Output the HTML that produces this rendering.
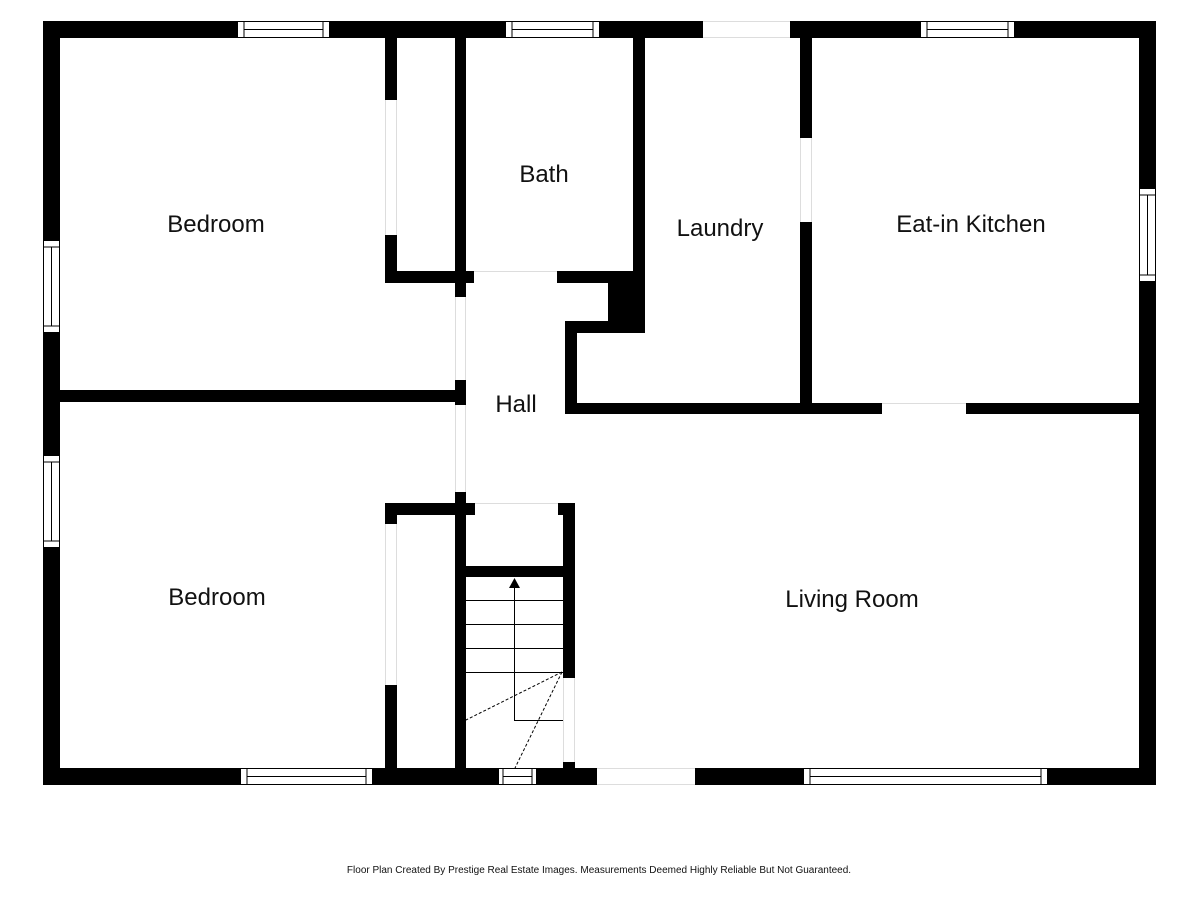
<!DOCTYPE html>
<html><head><meta charset="utf-8"><style>
html,body{margin:0;padding:0;background:#fff;width:1200px;height:900px;overflow:hidden}
svg{display:block}
text{font-family:"Liberation Sans",sans-serif;fill:#111}
</style></head><body>
<svg width="1200" height="900" viewBox="0 0 1200 900" xmlns="http://www.w3.org/2000/svg">
<g fill="#000">
<rect x="43" y="21" width="1113" height="17"/>
<rect x="43" y="768" width="1113" height="17"/>
<rect x="43" y="21" width="17" height="764"/>
<rect x="1139" y="21" width="17" height="764"/>
<rect x="385" y="38" width="12" height="62"/>
<rect x="385" y="235" width="12" height="48"/>
<rect x="385" y="271" width="89" height="12"/>
<rect x="455" y="38" width="11" height="259"/>
<rect x="455" y="380" width="11" height="25"/>
<rect x="60" y="390" width="406" height="12"/>
<rect x="557" y="271" width="88" height="12"/>
<rect x="633" y="38" width="12" height="295"/>
<rect x="608" y="283" width="37" height="50"/>
<rect x="565" y="321" width="80" height="12"/>
<rect x="565" y="321" width="12" height="93"/>
<rect x="565" y="403" width="317" height="11"/>
<rect x="966" y="403" width="173" height="11"/>
<rect x="800" y="38" width="12" height="100"/>
<rect x="800" y="222" width="12" height="185"/>
<rect x="385" y="503" width="90" height="12"/>
<rect x="385" y="503" width="12" height="21"/>
<rect x="455" y="492" width="11" height="276"/>
<rect x="563" y="503" width="12" height="175"/>
<rect x="558" y="503" width="10" height="12"/>
<rect x="466" y="566" width="99" height="11"/>
<rect x="385" y="685" width="12" height="83"/>
<rect x="563" y="762" width="12" height="6"/>
</g>
<g fill="#fff">
<rect x="703" y="20" width="87" height="19"/>
<rect x="597" y="767" width="98" height="19"/>
</g>
<g stroke="#ddd" stroke-width="1" fill="none">
<line x1="703" y1="21.5" x2="790" y2="21.5"/><line x1="703" y1="37.5" x2="790" y2="37.5"/>
<line x1="597" y1="768.5" x2="695" y2="768.5"/><line x1="597" y1="784.5" x2="695" y2="784.5"/>
<line x1="474" y1="271.5" x2="557" y2="271.5"/>
<line x1="882" y1="403.5" x2="966" y2="403.5"/>
<line x1="475" y1="503.5" x2="558" y2="503.5"/>
<line x1="455.5" y1="297" x2="455.5" y2="380"/><line x1="465.5" y1="297" x2="465.5" y2="380"/>
<line x1="455.5" y1="405" x2="455.5" y2="492"/><line x1="465.5" y1="405" x2="465.5" y2="492"/>
<line x1="385.5" y1="100" x2="385.5" y2="235"/><line x1="396.5" y1="100" x2="396.5" y2="235"/>
<line x1="385.5" y1="524" x2="385.5" y2="685"/><line x1="396.5" y1="524" x2="396.5" y2="685"/>
<line x1="800.5" y1="138" x2="800.5" y2="222"/><line x1="811.5" y1="138" x2="811.5" y2="222"/>
<line x1="563.5" y1="678" x2="563.5" y2="762"/><line x1="574.5" y1="678" x2="574.5" y2="762"/>
</g>
<g fill="#fff" stroke="#000" stroke-width="1">
<rect x="237.5" y="21.5" width="92" height="16"/><line x1="244" y1="21" x2="244" y2="38"/><line x1="323" y1="21" x2="323" y2="38"/><line x1="244" y1="29.5" x2="323" y2="29.5"/>
<rect x="505.5" y="21.5" width="94" height="16"/><line x1="512" y1="21" x2="512" y2="38"/><line x1="593" y1="21" x2="593" y2="38"/><line x1="512" y1="29.5" x2="593" y2="29.5"/>
<rect x="920.5" y="21.5" width="94" height="16"/><line x1="927" y1="21" x2="927" y2="38"/><line x1="1008" y1="21" x2="1008" y2="38"/><line x1="927" y1="29.5" x2="1008" y2="29.5"/>
<rect x="240.5" y="768.5" width="132" height="16"/><line x1="247" y1="768" x2="247" y2="785"/><line x1="366" y1="768" x2="366" y2="785"/><line x1="247" y1="776.5" x2="366" y2="776.5"/>
<rect x="498.5" y="768.5" width="38" height="16"/><line x1="503" y1="768" x2="503" y2="785"/><line x1="532" y1="768" x2="532" y2="785"/><line x1="503" y1="776.5" x2="532" y2="776.5"/>
<rect x="803.5" y="768.5" width="244" height="16"/><line x1="810" y1="768" x2="810" y2="785"/><line x1="1041" y1="768" x2="1041" y2="785"/><line x1="810" y1="776.5" x2="1041" y2="776.5"/>
<rect x="43.5" y="240.5" width="16" height="92"/><line x1="43" y1="247" x2="60" y2="247"/><line x1="43" y1="326" x2="60" y2="326"/><line x1="51.5" y1="247" x2="51.5" y2="326"/>
<rect x="43.5" y="455.5" width="16" height="92"/><line x1="43" y1="462" x2="60" y2="462"/><line x1="43" y1="541" x2="60" y2="541"/><line x1="51.5" y1="462" x2="51.5" y2="541"/>
<rect x="1139.5" y="188.5" width="16" height="93"/><line x1="1139" y1="195" x2="1156" y2="195"/><line x1="1139" y1="275" x2="1156" y2="275"/><line x1="1147.5" y1="195" x2="1147.5" y2="275"/>
</g>
<g stroke="#000" stroke-width="1" fill="none">
<line x1="466" y1="600.5" x2="563" y2="600.5"/>
<line x1="466" y1="624.5" x2="563" y2="624.5"/>
<line x1="466" y1="648.5" x2="563" y2="648.5"/>
<line x1="466" y1="672.5" x2="563" y2="672.5"/>
<polyline points="514.5,586 514.5,720.5 563,720.5"/>
<line x1="562" y1="672" x2="466" y2="720" stroke-dasharray="3,2"/>
<line x1="562" y1="672" x2="515" y2="768" stroke-dasharray="3,2"/>
</g>
<polygon points="514.5,578 509,588 520,588" fill="#000"/>
<g font-size="24" text-anchor="middle">
<text x="216" y="232">Bedroom</text>
<text x="544" y="182">Bath</text>
<text x="720" y="236">Laundry</text>
<text x="971" y="232">Eat-in Kitchen</text>
<text x="516" y="412">Hall</text>
<text x="217" y="605">Bedroom</text>
<text x="852" y="607">Living Room</text>
</g>
<text x="599" y="873" font-size="10" text-anchor="middle">Floor Plan Created By Prestige Real Estate Images. Measurements Deemed Highly Reliable But Not Guaranteed.</text>
</svg>
</body></html>
